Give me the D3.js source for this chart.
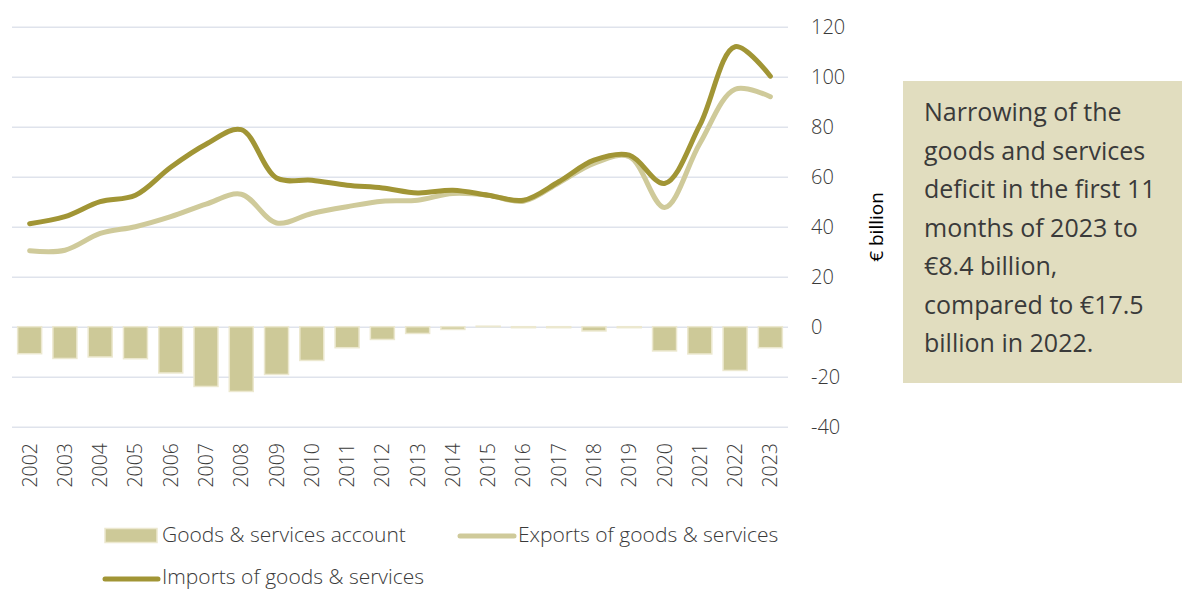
<!DOCTYPE html>
<html>
<head>
<meta charset="utf-8">
<script src="https://cdn.jsdelivr.net/npm/d3@7"></script>
<style>
  html, body { margin: 0; padding: 0; background: #ffffff; }
  svg { display: block; font-family: "Open Sans", "Noto Sans", sans-serif; }
</style>
</head>
<body>
<svg id="chart" width="1182" height="590"></svg>
<script>
// Goods & services trade, € billion
const years = ["2002","2003","2004","2005","2006","2007","2008","2009","2010","2011","2012",
               "2013","2014","2015","2016","2017","2018","2019","2020","2021","2022","2023"];
const balance = [-10.8, -12.7, -12.1, -12.8, -18.5, -23.9, -25.9, -19.1, -13.5, -8.4, -5.1,
                 -2.7, -1.1, 0.2, -0.4, -0.4, -1.7, -0.4, -9.7, -10.9, -17.5, -8.4];
const exportsVals = [30.4, 30.6, 37.3, 40.0, 44.0, 49.0, 53.0, 41.5, 45.3, 48.0, 50.2,
                     50.6, 53.3, 52.6, 50.2, 57.5, 65.3, 68.0, 47.7, 73.3, 95.0, 92.0];
const importsVals = [41.2, 44.0, 50.0, 52.6, 63.8, 73.0, 78.8, 59.5, 58.6, 56.6, 55.5,
                     53.5, 54.6, 52.6, 50.6, 58.0, 66.6, 68.6, 57.3, 80.6, 112.0, 100.2];
const yTicks = [-40, -20, 0, 20, 40, 60, 80, 100, 120];
const legendLabels = ["Goods & services account", "Exports of goods & services", "Imports of goods & services"];
const noteLines = ["Narrowing of the", "goods and services", "deficit in the first 11",
                   "months of 2023 to", "€8.4 billion,", "compared to €17.5", "billion in 2022."];

const colBar = "#cdc998", colBarEdge = "#ece8cf";
const colExports = "#cfca9a", colImports = "#a19535";
const textCol = "#3a3a3a";

const svg = d3.select("#chart");

const plotLeft = 12, plotRight = 788;
const x = d3.scaleBand().domain(years).range([plotLeft, plotRight])
  .paddingInner(0.32).paddingOuter(0.16);
const y = d3.scaleLinear().domain([-40, 120]).range([426.7, 26.7]);
const cx = d => x(d) + x.bandwidth() / 2;

// horizontal gridlines
const grid = svg.append("g")
  .attr("transform", `translate(${plotLeft},0)`)
  .call(d3.axisRight(y).tickValues(yTicks).tickSize(plotRight - plotLeft).tickFormat(""));
grid.select(".domain").remove();
grid.selectAll(".tick line").attr("stroke", "#dfe3ec").attr("stroke-width", 1.5);

// right value axis (plain hyphen for negatives)
const yAxis = svg.append("g")
  .attr("transform", "translate(811,0)")
  .call(d3.axisRight(y).tickValues(yTicks).tickSize(0).tickPadding(0).tickFormat(d => String(d)));
yAxis.select(".domain").remove();
yAxis.selectAll("text")
  .attr("font-family", "Open Sans").attr("font-size", 20).attr("font-weight", 300)
  .attr("fill", textCol).attr("text-anchor", "start");

// axis title
svg.append("text")
  .attr("transform", "translate(876,227) rotate(-90)")
  .attr("text-anchor", "middle").attr("dy", "0.35em")
  .attr("font-size", 19).attr("fill", "#000")
  .text("€ billion");

// year axis
const xAxis = svg.append("g")
  .attr("transform", "translate(0,443)")
  .call(d3.axisBottom(x).tickSize(0).tickPadding(0));
xAxis.select(".domain").remove();
xAxis.selectAll("text")
  .attr("transform", "rotate(-90)")
  .attr("text-anchor", "end")
  .attr("x", 0).attr("y", 0).attr("dy", "0.36em")
  .attr("font-family", "Open Sans").attr("font-size", 19.5).attr("font-weight", 300)
  .attr("fill", textCol);

// balance bars
svg.append("g").selectAll("rect")
  .data(years.map((yr, i) => ({ yr, v: balance[i] })))
  .join("rect")
  .attr("x", d => x(d.yr))
  .attr("width", x.bandwidth())
  .attr("y", d => y(Math.max(0, d.v)))
  .attr("height", d => Math.abs(y(d.v) - y(0)))
  .attr("fill", colBar)
  .attr("stroke", colBarEdge).attr("stroke-width", 1.5);

// smoothed trade lines
const line = d3.line().x(d => cx(d.yr)).y(d => y(d.v)).curve(d3.curveCatmullRom.alpha(0.5));
const series = [
  { vals: exportsVals, color: colExports },
  { vals: importsVals, color: colImports }
];
series.forEach(s => {
  svg.append("path")
    .datum(years.map((yr, i) => ({ yr, v: s.vals[i] })))
    .attr("d", line)
    .attr("fill", "none")
    .attr("stroke", s.color).attr("stroke-width", 5)
    .attr("stroke-linecap", "round").attr("stroke-linejoin", "round");
});

// legend
const lg = svg.append("g").attr("font-size", 21).attr("font-weight", 300).attr("fill", textCol);
lg.append("rect").attr("x", 105).attr("y", 528.5).attr("width", 52).attr("height", 14)
  .attr("fill", colBar).attr("stroke", colBarEdge).attr("stroke-width", 1.5);
lg.append("text").attr("x", 162).attr("y", 542).text(legendLabels[0]);
lg.append("line").attr("x1", 460).attr("x2", 514).attr("y1", 536).attr("y2", 536)
  .attr("stroke", colExports).attr("stroke-width", 5).attr("stroke-linecap", "round");
lg.append("text").attr("x", 518).attr("y", 542).text(legendLabels[1]);
lg.append("line").attr("x1", 105).attr("x2", 158).attr("y1", 579).attr("y2", 579)
  .attr("stroke", colImports).attr("stroke-width", 5).attr("stroke-linecap", "round");
lg.append("text").attr("x", 162).attr("y", 584).text(legendLabels[2]);

// note box
svg.append("rect").attr("x", 903).attr("y", 81).attr("width", 279).attr("height", 302)
  .attr("fill", "#e1ddbf");
svg.append("g").selectAll("text")
  .data(noteLines)
  .join("text")
  .attr("x", 924)
  .attr("y", (d, i) => 121 + i * 38.5)
  .attr("font-size", 25).attr("fill", textCol)
  .text(d => d);
</script>
</body>
</html>
